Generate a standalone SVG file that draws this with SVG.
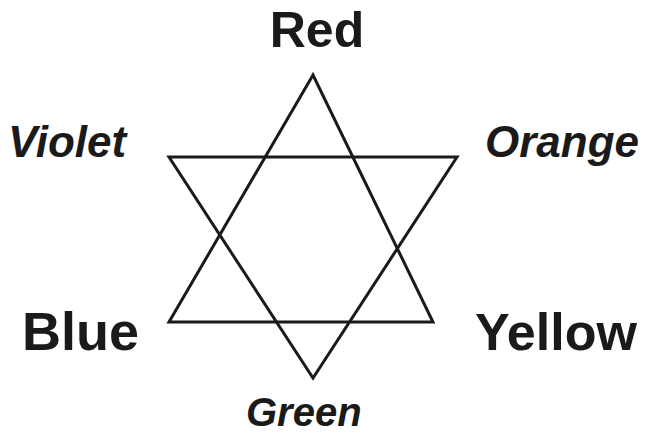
<svg xmlns="http://www.w3.org/2000/svg" width="652" height="436" viewBox="0 0 652 436">
<style>
.lbl{font-family:"Liberation Sans",Arial,sans-serif;font-weight:bold;fill:#1a1a1a}
.it{font-style:italic}
.tri{fill:none;stroke:#1a1a1a;stroke-width:3;stroke-linejoin:miter}
</style>
<rect width="652" height="436" fill="#ffffff"/>
<g id="connectors">
<polygon class="tri" points="313,75 169,322 433,322"/>
<polygon class="tri" points="169,157 457,157 313,378"/>
</g>
<g id="red"><text class="lbl" x="317" y="47" font-size="50" text-anchor="middle">Red</text></g>
<g id="violet"><text class="lbl it" x="8" y="157" font-size="44">Violet</text></g>
<g id="orange"><text class="lbl it" x="485" y="157" font-size="44">Orange</text></g>
<g id="blue"><text class="lbl" x="22" y="350" font-size="54">Blue</text></g>
<g id="yellow"><text class="lbl" x="475" y="350" font-size="52">Yellow</text></g>
<g id="green"><text class="lbl it" x="246" y="426" font-size="40">Green</text></g>
</svg>
